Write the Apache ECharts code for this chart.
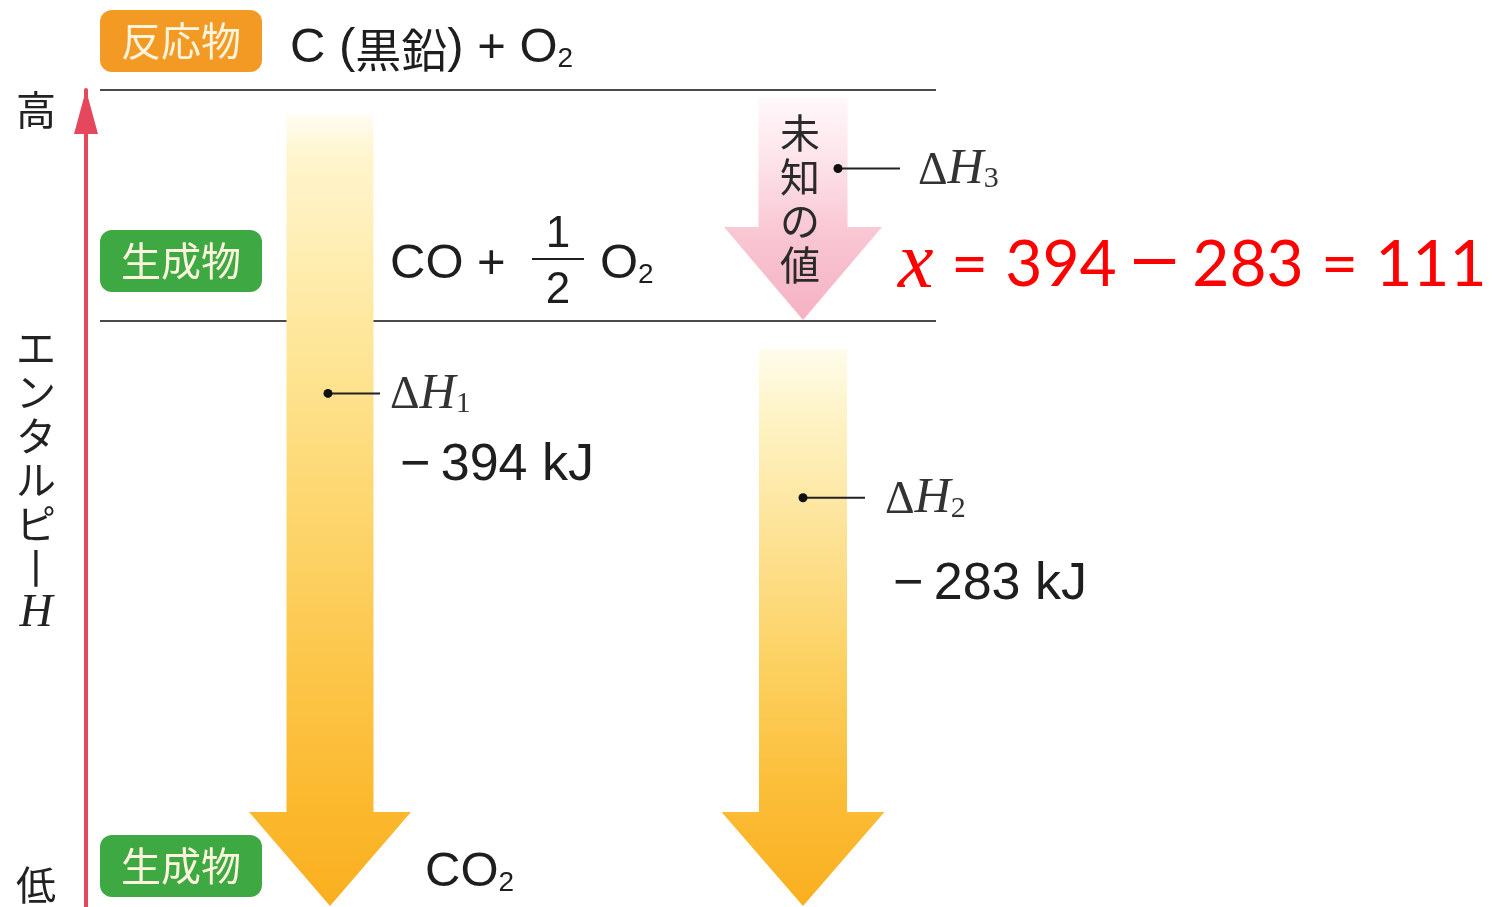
<!DOCTYPE html>
<html><head><meta charset="utf-8">
<script src="https://cdn.jsdelivr.net/npm/echarts@6/dist/echarts.min.js"></script>
<style>html,body{margin:0;padding:0;background:#fff}#c{width:1493px;height:907px}</style>
</head><body><div id="c"></div>
<script>
// ---------------- data ----------------
const levelRoles   = ['反応物', '生成物', '生成物'];
const levelSpecies = ['C (黒鉛) + O₂', 'CO + 1/2 O₂', 'CO₂'];
const levelH       = [0, -111, -394];          // enthalpy level, kJ (C(graphite)+O2 = 0)
const stepNames    = ['ΔH₁', 'ΔH₂', 'ΔH₃'];
const stepFrom     = [0, -111, 0];
const stepTo       = [-394, -394, -111];
const unknownLabel = '未知の値';
const axisTickLabels = ['高', '低'];
const axisTitle    = 'エンタルピー';
const axisSymbol   = 'H';

// ---------------- layout / style (not data) ----------------
const GRID = {left: 86, top: 90, height: 820};
const LV = {
  lineX: [100, 936], showLine: [true, true, false],
  badgeX: 100, badgeW: 162, badgeH: 62, badgeR: 12,
  badgeColor: ['#f29a24', '#3ea843', '#3ea843'],
  badgeDy: [-49, -60, -44],
  speciesX: [290, 390, 425], speciesDy: [-45, -59, -40]
};
const AR = [
  {cx: 330, sw: 87, hw: 162, hh: 94, gapTop: 24, gapTip: 4, dotDx: -2, dotFrac: 0.37, lead: 52, nameDx: 62, valDx: 72, valDy: 72,
   grad: [[0, '#fffdf4'], [0.05, '#fff5cf'], [0.25, '#fee9a2'], [0.45, '#fdda78'], [0.7, '#fcc64a'], [0.88, '#fbb82d'], [1, '#faaf1f']]},
  {cx: 803, sw: 88, hw: 163, hh: 94, gapTop: 28, gapTip: 4, dotDx: 0, dotFrac: 0.30, lead: 62, nameDx: 82, valDx: 90, valDy: 87,
   grad: [[0, '#fffcec'], [0.12, '#fef3c6'], [0.3, '#fde59d'], [0.55, '#fcd264'], [0.8, '#fbbd37'], [1, '#faaf1f']]},
  {cx: 803, sw: 89, hw: 158, hh: 93, gapTop: 8, gapTip: 1, dotDx: 35, dotFrac: 0.34, lead: 62, nameDx: 80, vFrac: 0.47,
   grad: [[0, '#fff8fa'], [0.3, '#fde2e9'], [0.6, '#f9c7d4'], [1, '#f5b1c3']]}
];
const SANS = '"Liberation Sans", Arial, sans-serif';
const SERIF = '"Liberation Serif", "DejaVu Serif", serif';
const CJK = '"Noto Sans CJK JP", sans-serif';
const INK = '#1e1e1e';

const SUB = {'₁': '1', '₂': '2', '₃': '3'};
function richOf(str, cls) {
  let out = '', cur = null, buf = '';
  const flush = () => { if (buf) out += '{' + cur + '|' + buf + '}'; buf = ''; };
  for (const ch of str) {
    let t, c = ch;
    if (SUB[ch]) { t = 's'; c = SUB[ch]; }
    else if (/[\u3000-\u9fff\uff00-\uffef]/.test(ch)) t = 'k';
    else t = cls ? cls(ch) : 'm';
    if (t !== cur) { flush(); cur = t; }
    buf += c;
  }
  flush();
  return out;
}
const speciesRich = {
  m: {fontSize: 49, fontFamily: SANS, fill: INK, lineHeight: 54, verticalAlign: 'bottom'},
  k: {fontSize: 46, fontFamily: CJK, fill: INK, lineHeight: 56, verticalAlign: 'bottom'},
  s: {fontSize: 28, fontFamily: SANS, fill: INK, lineHeight: 26, verticalAlign: 'bottom'}
};
const dhRich = {
  d: {fontSize: 46, fontFamily: SERIF, fill: '#333', lineHeight: 52, verticalAlign: 'bottom'},
  h: {fontSize: 50, fontFamily: SERIF, fontStyle: 'italic', fill: '#333', lineHeight: 52, verticalAlign: 'bottom'},
  s: {fontSize: 30, fontFamily: SERIF, fill: '#333', lineHeight: 30, verticalAlign: 'bottom'}
};

function renderLevel(params, api) {
  const i = api.value(0);
  const y = api.coord([LV.lineX[0], api.value(1)])[1];
  const ch = [];
  if (LV.showLine[i]) {
    ch.push({type: 'line', shape: {x1: LV.lineX[0], y1: y, x2: LV.lineX[1], y2: y},
             style: {stroke: '#4a4a4a', lineWidth: 2}});
  }
  const by = y + LV.badgeDy[i];
  ch.push({type: 'rect', shape: {x: LV.badgeX, y: by - LV.badgeH / 2, width: LV.badgeW, height: LV.badgeH, r: LV.badgeR},
           style: {fill: LV.badgeColor[i]}});
  ch.push({type: 'text', x: LV.badgeX + LV.badgeW / 2, y: by,
           style: {text: levelRoles[i], fill: '#fdf4de', fontSize: 40, fontFamily: CJK, align: 'center', verticalAlign: 'middle'}});
  const sy = y + LV.speciesDy[i];
  const sp = levelSpecies[i];
  const fr = sp.indexOf(' 1/2 ');
  if (fr >= 0) {
    const left = sp.slice(0, fr), right = sp.slice(fr + 5);
    ch.push({type: 'text', x: LV.speciesX[i], y: sy,
             style: {text: richOf(left), rich: speciesRich, align: 'left', verticalAlign: 'middle'}});
    const fx = LV.speciesX[i] + 168;
    ch.push({type: 'text', x: fx, y: sy - 27, style: {text: '1', fill: INK, fontSize: 44, fontFamily: SANS, align: 'center', verticalAlign: 'middle'}});
    ch.push({type: 'line', shape: {x1: fx - 26, y1: sy - 3, x2: fx + 26, y2: sy - 3}, style: {stroke: INK, lineWidth: 2}});
    ch.push({type: 'text', x: fx, y: sy + 29, style: {text: '2', fill: INK, fontSize: 44, fontFamily: SANS, align: 'center', verticalAlign: 'middle'}});
    ch.push({type: 'text', x: fx + 42, y: sy,
             style: {text: richOf(right), rich: speciesRich, align: 'left', verticalAlign: 'middle'}});
  } else {
    ch.push({type: 'text', x: LV.speciesX[i], y: sy,
             style: {text: richOf(sp), rich: speciesRich, align: 'left', verticalAlign: 'middle'}});
  }
  return {type: 'group', children: ch};
}

function renderStep(params, api) {
  const i = api.value(0);
  const a = AR[i];
  const p0 = api.coord([a.cx, api.value(1)])[1];
  const p1 = api.coord([a.cx, api.value(2)])[1];
  const top = p0 + a.gapTop, tip = p1 - a.gapTip, ht = tip - a.hh;
  const cx = a.cx;
  const pts = [[cx - a.sw / 2, top], [cx + a.sw / 2, top], [cx + a.sw / 2, ht], [cx + a.hw / 2, ht],
               [cx, tip], [cx - a.hw / 2, ht], [cx - a.sw / 2, ht]];
  const grad = new echarts.graphic.LinearGradient(0, 0, 0, 1, a.grad.map(g => ({offset: g[0], color: g[1]})));
  const ch = [{type: 'polygon', shape: {points: pts}, style: {fill: grad}}];
  const dy = p0 + a.dotFrac * (p1 - p0);
  const dx = cx + a.dotDx;
  ch.push({type: 'line', shape: {x1: dx, y1: dy, x2: dx + a.lead, y2: dy}, style: {stroke: '#222', lineWidth: 2}});
  ch.push({type: 'circle', shape: {cx: dx, cy: dy, r: 4.5}, style: {fill: '#111'}});
  ch.push({type: 'text', x: dx + a.nameDx, y: dy,
           style: {text: richOf(stepNames[i], c => c === 'Δ' ? 'd' : 'h'), rich: dhRich, align: 'left', verticalAlign: 'middle'}});
  const dH = api.value(2) - api.value(1);
  if (a.vFrac == null) {
    ch.push({type: 'text', x: dx + a.valDx, y: dy + a.valDy,
             style: {text: '−\u2009' + Math.abs(dH) + ' kJ', fill: INK, fontSize: 52, fontFamily: SANS, align: 'left', verticalAlign: 'middle'}});
  } else {
    const vy = p0 + a.vFrac * (p1 - p0);
    ch.push({type: 'text', x: cx - 3, y: vy,
             style: {text: unknownLabel.split('').join('\n'), fill: '#2a2a2a', fontSize: 40, lineHeight: 44, fontFamily: CJK, align: 'center', verticalAlign: 'middle'}});
  }
  return {type: 'group', children: ch};
}

// equation x = |ΔH1| − |ΔH2|
const dH1 = Math.abs(stepTo[0] - stepFrom[0]);
const dH2 = Math.abs(stepTo[1] - stepFrom[1]);
const xVal = dH1 - dH2;
const EQ_FONT = 'Lato, "Open Sans", sans-serif';

const chart = echarts.init(document.getElementById('c'));
chart.setOption({
  animation: false,
  backgroundColor: '#ffffff',
  grid: {left: GRID.left, right: 0, top: GRID.top, height: GRID.height, containLabel: false, outerBoundsMode: 'none'},
  xAxis: {type: 'value', min: GRID.left, max: 1493, show: false},
  yAxis: {
    type: 'value', min: -394, max: 0, interval: 394,
    axisLine: {show: true, onZero: false, lineStyle: {color: '#e5475c', width: 4}, symbol: ['none', 'triangle'], symbolSize: [24, 44], symbolOffset: [0, -22]},
    axisTick: {show: false}, splitLine: {show: false},
    axisLabel: {
      margin: 30, formatter: v => v === 0 ? '{a|' + axisTickLabels[0] + '}' : '{b|' + axisTickLabels[1] + '}',
      rich: {
        a: {fontSize: 40, fontFamily: CJK, color: '#222', padding: [40, 0, 0, 0]},
        b: {fontSize: 40, fontFamily: CJK, color: '#222', padding: [0, 0, 50, 0]}
      }
    },
    name: '{j|' + axisTitle.split('').map(c => c === 'ー' ? '丨' : c).join('\n') + '}\n{h|' + axisSymbol + '}',
    nameLocation: 'middle', nameGap: 50, nameRotate: 0, nameMoveOverlap: false,
    nameTextStyle: {
      align: 'center', verticalAlign: 'middle', padding: [0, 0, 36, 0],
      rich: {
        j: {fontSize: 40, lineHeight: 44, fontFamily: CJK, color: '#222', align: 'center'},
        h: {fontSize: 46, lineHeight: 48, fontFamily: SERIF, fontStyle: 'italic', color: '#222', align: 'center'}
      }
    }
  },
  series: [
    {type: 'custom', name: 'levels', clip: false, z: 2, renderItem: renderLevel,
     data: levelH.map((h, i) => [i, h])},
    {type: 'custom', name: 'steps', clip: false, z: 3, renderItem: renderStep,
     data: stepFrom.map((f, i) => [i, f, stepTo[i]])}
  ],
  graphic: [{
    type: 'text', x: 898, y: 266, z: 10,
    style: {text: 'x', fill: '#ff0000', fontSize: 80, fontFamily: SERIF, fontStyle: 'italic', align: 'left', verticalAlign: 'middle'}
  }, {
    type: 'text', x: 951, y: 257, z: 10,
    style: {
      text: '{n|=}{g| }{n|' + dH1 + '}{g| }{d|–}{g| }{n|' + dH2 + '}{g| }{n|=}{g| }{n|' + xVal + '}',
      align: 'left', verticalAlign: 'middle',
      rich: {
        n: {fontSize: 64, fontFamily: EQ_FONT, fill: '#ff0000', lineHeight: 80, verticalAlign: 'bottom'},
        g: {fontSize: 62, fontFamily: SANS, fill: '#ff0000', lineHeight: 80, verticalAlign: 'bottom'},
        d: {fontSize: 74, fontFamily: SANS, fill: '#ff0000', lineHeight: 80, verticalAlign: 'bottom'}
      }
    }
  }]
});
</script></body></html>
